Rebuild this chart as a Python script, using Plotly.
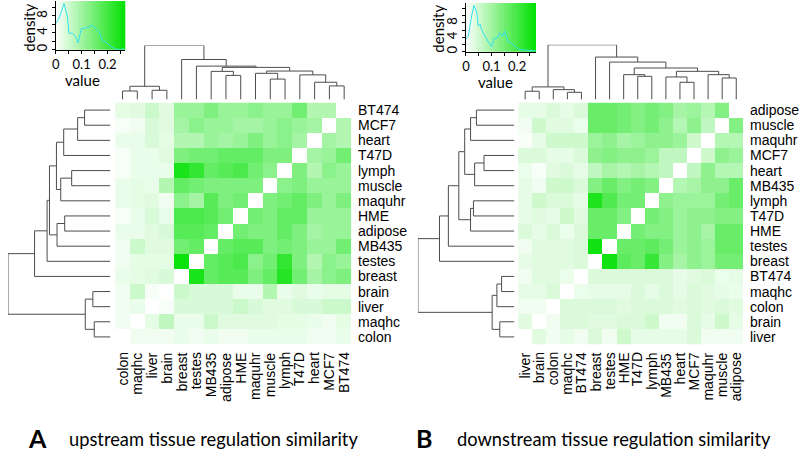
import plotly.graph_objects as go
import numpy as np

W, H = 800, 454

# ---------------- data: panel A (upstream) ----------------
rows_A = ["BT474", "MCF7", "heart", "T47D", "lymph", "muscle", "maquhr", "HME",
          "adipose", "MB435", "testes", "breast", "brain", "liver", "maqhc", "colon"]
cols_A = ["colon", "maqhc", "liver", "brain", "breast", "testes", "MB435", "adipose",
          "HME", "maquhr", "muscle", "lymph", "T47D", "heart", "MCF7", "BT474"]
vals_A = [
    [0.027, 0.032, 0.054, 0.032, 0.108, 0.108, 0.135, 0.108, 0.108, 0.122, 0.108, 0.108, 0.149, 0.081, 0.081, 0],
    [0.008, 0.014, 0.040, 0.032, 0.095, 0.122, 0.108, 0.108, 0.095, 0.095, 0.108, 0.122, 0.108, 0.095, 0, 0.081],
    [0.022, 0.022, 0.040, 0.027, 0.081, 0.081, 0.108, 0.095, 0.108, 0.135, 0.108, 0.122, 0.095, 0, 0.095, 0.081],
    [0.008, 0.022, 0.022, 0.032, 0.135, 0.149, 0.149, 0.162, 0.162, 0.162, 0.135, 0.135, 0, 0.095, 0.108, 0.149],
    [0.008, 0.022, 0.022, 0.022, 0.243, 0.216, 0.162, 0.176, 0.189, 0.149, 0.122, 0, 0.135, 0.081, 0.122, 0.108],
    [0.022, 0.027, 0.022, 0.081, 0.162, 0.149, 0.135, 0.135, 0.135, 0.135, 0, 0.122, 0.135, 0.108, 0.108, 0.108],
    [0.022, 0.027, 0.032, 0.014, 0.122, 0.095, 0.176, 0.135, 0.149, 0, 0.135, 0.149, 0.162, 0.135, 0.108, 0.135],
    [0.008, 0.022, 0.040, 0.022, 0.189, 0.189, 0.176, 0.149, 0, 0.149, 0.135, 0.162, 0.162, 0.108, 0.108, 0.108],
    [0.022, 0.022, 0.032, 0.040, 0.176, 0.176, 0.162, 0, 0.149, 0.135, 0.135, 0.162, 0.135, 0.095, 0.108, 0.108],
    [0.014, 0.054, 0.032, 0.032, 0.149, 0.162, 0, 0.162, 0.176, 0.176, 0.135, 0.149, 0.135, 0.108, 0.108, 0.149],
    [0.014, 0.027, 0.027, 0.027, 0.257, 0, 0.162, 0.176, 0.189, 0.122, 0.149, 0.216, 0.135, 0.081, 0.122, 0.108],
    [0.022, 0.027, 0.032, 0.040, 0, 0.243, 0.162, 0.176, 0.176, 0.135, 0.162, 0.230, 0.149, 0.095, 0.122, 0.135],
    [0.014, 0.054, 0.008, 0, 0.054, 0.040, 0.040, 0.040, 0.022, 0.022, 0.081, 0.022, 0.032, 0.022, 0.027, 0.027],
    [0.014, 0.022, 0, 0.008, 0.040, 0.040, 0.040, 0.040, 0.054, 0.040, 0.032, 0.032, 0.040, 0.040, 0.054, 0.054],
    [0.014, 0, 0.027, 0.068, 0.022, 0.022, 0.054, 0.032, 0.032, 0.032, 0.032, 0.027, 0.027, 0.022, 0.014, 0.027],
    [0, 0.014, 0.014, 0.014, 0.022, 0.014, 0.022, 0.014, 0.014, 0.022, 0.022, 0.022, 0.022, 0.014, 0.014, 0.022],
]
# dendrogram merges: (child, child, height); ints refer to earlier merges
merges_A = [
    ("BT474", "MCF7", 26), (0, "heart", 33), (1, "T47D", 47),
    ("lymph", "muscle", 39), (3, "maquhr", 50), (2, 4, 54.3),
    ("HME", "adipose", 46), (6, "MB435", 53.7), (5, 7, 61.3),
    (8, "testes", 63.7), (9, "breast", 76.3),
    ("brain", "liver", 17.7), ("maqhc", "colon", 16.3), (11, 12, 25.3),
    (10, 13, 103),
]
dens_x_A = [0, 0.013, 0.032, 0.045, 0.051, 0.064, 0.077, 0.086, 0.099, 0.109, 0.128, 0.141,
            0.154, 0.167, 0.179, 0.199, 0.212, 0.231, 0.25, 0.263]
dens_y_A = [6.2, 7.4, 10.9, 7.8, 3.9, 3.9, 3.1, 1.6, 5.0, 5.0, 5.4, 5.8,
            5.0, 4.3, 2.3, 1.6, 0.8, 0.2, 0.0, 0.4]

# ---------------- data: panel B (downstream) ----------------
rows_B = ["adipose", "muscle", "maquhr", "MCF7", "heart", "MB435", "lymph", "T47D",
          "HME", "testes", "breast", "BT474", "maqhc", "colon", "brain", "liver"]
cols_B = ["liver", "brain", "colon", "maqhc", "BT474", "breast", "testes", "HME",
          "T47D", "lymph", "MB435", "heart", "MCF7", "maquhr", "muscle", "adipose"]
vals_B = [
    [0.027, 0.027, 0.040, 0.027, 0.040, 0.162, 0.162, 0.149, 0.135, 0.149, 0.135, 0.095, 0.108, 0.081, 0.135, 0],
    [0.014, 0.054, 0.032, 0.032, 0.022, 0.162, 0.162, 0.149, 0.135, 0.149, 0.122, 0.081, 0.122, 0.068, 0, 0.135],
    [0.008, 0.027, 0.054, 0.054, 0.054, 0.108, 0.122, 0.095, 0.108, 0.122, 0.122, 0.108, 0.054, 0, 0.081, 0.081],
    [0.040, 0.040, 0.027, 0.027, 0.040, 0.122, 0.135, 0.122, 0.122, 0.108, 0.068, 0.068, 0, 0.054, 0.122, 0.108],
    [0.022, 0.008, 0.032, 0.040, 0.027, 0.068, 0.095, 0.081, 0.095, 0.081, 0.068, 0, 0.068, 0.122, 0.081, 0.081],
    [0.027, 0.014, 0.054, 0.054, 0.040, 0.135, 0.162, 0.135, 0.149, 0.135, 0, 0.081, 0.095, 0.122, 0.122, 0.162],
    [0.027, 0.054, 0.040, 0.040, 0.027, 0.243, 0.189, 0.149, 0.149, 0, 0.122, 0.108, 0.108, 0.108, 0.149, 0.162],
    [0.027, 0.032, 0.027, 0.054, 0.032, 0.162, 0.162, 0.135, 0, 0.149, 0.135, 0.108, 0.122, 0.122, 0.135, 0.135],
    [0.040, 0.027, 0.040, 0.022, 0.040, 0.162, 0.162, 0, 0.149, 0.135, 0.135, 0.108, 0.122, 0.095, 0.162, 0.162],
    [0.014, 0.032, 0.032, 0.032, 0.040, 0.257, 0, 0.162, 0.162, 0.176, 0.149, 0.108, 0.122, 0.108, 0.162, 0.162],
    [0.027, 0.032, 0.032, 0.032, 0.040, 0, 0.257, 0.176, 0.162, 0.216, 0.135, 0.095, 0.122, 0.108, 0.149, 0.149],
    [0.014, 0.032, 0.032, 0.022, 0, 0.040, 0.040, 0.040, 0.040, 0.040, 0.040, 0.027, 0.032, 0.040, 0.022, 0.027],
    [0.027, 0.027, 0.040, 0, 0.022, 0.027, 0.027, 0.027, 0.040, 0.027, 0.040, 0.027, 0.040, 0.032, 0.027, 0.022],
    [0.014, 0.014, 0, 0.040, 0.040, 0.040, 0.040, 0.032, 0.040, 0.040, 0.040, 0.032, 0.040, 0.032, 0.040, 0.032],
    [0.032, 0, 0.014, 0.040, 0.040, 0.032, 0.032, 0.040, 0.040, 0.054, 0.014, 0.014, 0.040, 0.027, 0.054, 0.027],
    [0, 0.032, 0.014, 0.027, 0.014, 0.040, 0.014, 0.054, 0.027, 0.027, 0.027, 0.027, 0.040, 0.014, 0.014, 0.014],
]
merges_B = [
    ("adipose", "muscle", 38.2), (0, "maquhr", 44.1), ("MCF7", "heart", 30.6),
    (2, "MB435", 40), (3, 1, 50), ("lymph", "T47D", 41.2), (5, "HME", 44.1),
    (4, 6, 55.9), (7, "testes", 66.4), (8, "breast", 75.3),
    ("maqhc", "BT474", 12.9), ("colon", 10, 17.6), ("brain", "liver", 14.7),
    (11, 12, 22.4), (9, 13, 97),
]
dens_x_B = [0, 0.009, 0.022, 0.031, 0.042, 0.048, 0.055, 0.061, 0.074, 0.087, 0.1, 0.11,
            0.123, 0.132, 0.142, 0.152, 0.165, 0.178, 0.194, 0.206, 0.223, 0.243, 0.27]
dens_y_B = [3.5, 4.3, 9.9, 12.8, 10.9, 7.1, 7.6, 6.1, 4.3, 2.8, 1.4, 3.8,
            3.8, 5.2, 4.3, 5.7, 2.8, 2.4, 1.4, 0.7, 0.5, 0.5, 0.3]

GREEN_SCALE = [[0, "#ffffff"], [1, "#00e000"]]
DENDRO_COLOR = "#4d4d4d"
LABEL_FONT = dict(family="Liberation Sans, Arial, sans-serif", size=14, color="black")
KEY_FONT = dict(family="Lato, sans-serif", size=13, color="black")


def px_x(x):
    return x / W


def px_y(y):
    return 1 - y / H


def dendro_segments(merges, order):
    pos = {name: i for i, name in enumerate(order)}
    node_pos, node_h = [], []
    segs = []

    def get(c):
        if isinstance(c, int):
            return node_pos[c], node_h[c]
        return pos[c], 0.0

    for a, b, h in merges:
        pa, ha = get(a)
        pb, hb = get(b)
        segs.append(([pa, pa, pb, pb], [ha, h, h, hb]))
        node_pos.append((pa + pb) / 2)
        node_h.append(h)
    return segs


fig = go.Figure()
annotations = []
layout_axes = {}


def add_panel(n0, rows, cols, vals, merges, zmax, hm_x, hm_y, left_x, top_y,
              key_x, key_y, key_top, dens_x, dens_y, ytickvals, label_x, col_label_y,
              value_pos, density_pos):
    ids = [n0, n0 + 1, n0 + 2, n0 + 3]
    xa = ["x" if i == 1 else f"x{i}" for i in ids]
    ya = ["y" if i == 1 else f"y{i}" for i in ids]
    xl = ["xaxis" if i == 1 else f"xaxis{i}" for i in ids]
    yl = ["yaxis" if i == 1 else f"yaxis{i}" for i in ids]

    hm_xdom = [px_x(hm_x[0]), px_x(hm_x[1])]
    hm_ydom = [px_y(hm_y[1]), px_y(hm_y[0])]

    # heatmap
    fig.add_trace(go.Heatmap(z=vals, x=list(range(16)), y=list(range(16)),
                             colorscale=GREEN_SCALE, zmin=0, zmax=zmax, showscale=False,
                             hoverinfo="skip", xaxis=xa[0], yaxis=ya[0]))
    layout_axes[xl[0]] = dict(domain=hm_xdom, range=[-0.5, 15.5], visible=False, fixedrange=True)
    layout_axes[yl[0]] = dict(domain=hm_ydom, range=[15.5, -0.5], visible=False, fixedrange=True)

    # left dendrogram (rows)
    hmax = merges[-1][2]
    for xs, ys in dendro_segments(merges, rows):
        fig.add_trace(go.Scatter(x=ys, y=xs, mode="lines", line=dict(color=DENDRO_COLOR, width=1),
                                 hoverinfo="skip", xaxis=xa[1], yaxis=ya[1]))
    layout_axes[xl[1]] = dict(domain=[px_x(left_x[0]), px_x(left_x[1])], range=[hmax, 0],
                              visible=False)
    layout_axes[yl[1]] = dict(domain=hm_ydom, range=[15.5, -0.5], visible=False)

    # top dendrogram (columns)
    for xs, ys in dendro_segments(merges, cols):
        fig.add_trace(go.Scatter(x=xs, y=ys, mode="lines", line=dict(color=DENDRO_COLOR, width=1),
                                 hoverinfo="skip", xaxis=xa[2], yaxis=ya[2]))
    layout_axes[xl[2]] = dict(domain=hm_xdom, range=[-0.5, 15.5], visible=False)
    layout_axes[yl[2]] = dict(domain=[px_y(top_y[1]), px_y(top_y[0])], range=[0, hmax],
                              visible=False)

    # colour key with density
    nstep = 80
    dx = zmax / nstep
    grad = [[(i + 0.5) * dx for i in range(nstep)]]
    fig.add_trace(go.Heatmap(z=grad, x0=dx / 2, dx=dx, y0=key_top / 2, dy=key_top,
                             colorscale=GREEN_SCALE, zmin=0, zmax=zmax, showscale=False,
                             hoverinfo="skip", xaxis=xa[3], yaxis=ya[3]))
    fig.add_trace(go.Scatter(x=dens_x, y=dens_y, mode="lines",
                             line=dict(color="#33e0f0", width=1), hoverinfo="skip",
                             xaxis=xa[3], yaxis=ya[3]))
    xt = [0, 0.05, 0.1, 0.15, 0.2, 0.25]
    layout_axes[xl[3]] = dict(domain=[px_x(key_x[0]), px_x(key_x[1])], range=[0, zmax],
                              showline=True, linecolor="black", linewidth=1, ticks="outside",
                              ticklen=3, tickcolor="black", tickvals=xt,
                              ticktext=["0", "", "0.1", "", "0.2", ""], showgrid=False,
                              zeroline=False, tickfont=KEY_FONT, anchor=ya[3])
    layout_axes[yl[3]] = dict(domain=[px_y(key_y[1]), px_y(key_y[0])], range=[0, key_top],
                              showline=True, linecolor="black", linewidth=1, ticks="outside",
                              ticklen=3, tickcolor="black", tickvals=ytickvals,
                              ticktext=[str(v) if v % 4 == 0 else "" for v in ytickvals],
                              tickangle=-90, showgrid=False, zeroline=False,
                              tickfont=KEY_FONT, anchor=xa[3])
    annotations.append(dict(text="value", x=px_x(value_pos[0]), y=px_y(value_pos[1]),
                            xref="paper", yref="paper", xanchor="center", yanchor="middle",
                            showarrow=False,
                            font=dict(family="Lato, sans-serif", size=15, color="black")))
    annotations.append(dict(text="density", x=px_x(density_pos[0]), y=px_y(density_pos[1]),
                            xref="paper", yref="paper", xanchor="center", yanchor="middle",
                            showarrow=False, textangle=-90,
                            font=dict(family="Lato, sans-serif", size=15, color="black")))

    # row labels (right) and column labels (bottom)
    for i, name in enumerate(rows):
        annotations.append(dict(text=name, x=px_x(label_x), y=i, xref="paper", yref=ya[0],
                                xanchor="left", yanchor="middle", showarrow=False,
                                font=LABEL_FONT))
    for j, name in enumerate(cols):
        annotations.append(dict(text=name, x=j, y=px_y(col_label_y), xref=xa[0], yref="paper",
                                xanchor="center", yanchor="top", textangle=-90,
                                showarrow=False, font=LABEL_FONT))


add_panel(1, rows_A, cols_A, vals_A, merges_A, 0.269,
          hm_x=(111.7, 349.3), hm_y=(103, 346), left_x=(4, 107), top_y=(45.7, 100),
          key_x=(52, 122), key_y=(1, 50), key_top=11.5, dens_x=dens_x_A, dens_y=dens_y_A,
          ytickvals=[0, 2, 4, 6, 8, 10], label_x=354, col_label_y=352,
          value_pos=(79, 80), density_pos=(25, 28))
add_panel(5, rows_B, cols_B, vals_B, merges_B, 0.275,
          hm_x=(516.7, 743), hm_y=(103, 346), left_x=(416, 513), top_y=(45, 100),
          key_x=(464.3, 535), key_y=(3, 52), key_top=13.5, dens_x=dens_x_B, dens_y=dens_y_B,
          ytickvals=[0, 2, 4, 6, 8, 10, 12], label_x=748, col_label_y=352,
          value_pos=(494, 82), density_pos=(436, 29))

# panel captions
cap_font = dict(family="Lato, sans-serif", size=18.3, color="black")
big_font = dict(family="Lato, sans-serif", size=25, color="black")
annotations += [
    dict(text="<b>A</b>", x=px_x(22), y=px_y(440), xref="paper", yref="paper", xanchor="left",
         yanchor="middle", showarrow=False, font=big_font),
    dict(text="upstream tissue regulation similarity", x=px_x(63), y=px_y(441), xref="paper",
         yref="paper", xanchor="left", yanchor="middle", showarrow=False, font=cap_font),
    dict(text="<b>B</b>", x=px_x(412), y=px_y(440), xref="paper", yref="paper", xanchor="left",
         yanchor="middle", showarrow=False, font=big_font),
    dict(text="downstream tissue regulation similarity", x=px_x(453), y=px_y(441), xref="paper",
         yref="paper", xanchor="left", yanchor="middle", showarrow=False, font=cap_font),
]

fig.update_layout(width=W, height=H, margin=dict(l=0, r=0, t=0, b=0),
                  paper_bgcolor="white", plot_bgcolor="white", showlegend=False,
                  annotations=annotations, **layout_axes)
fig.write_html("out.html", config={"displayModeBar": False},
               post_script="document.body.style.margin='0';document.body.style.overflow='hidden';")
